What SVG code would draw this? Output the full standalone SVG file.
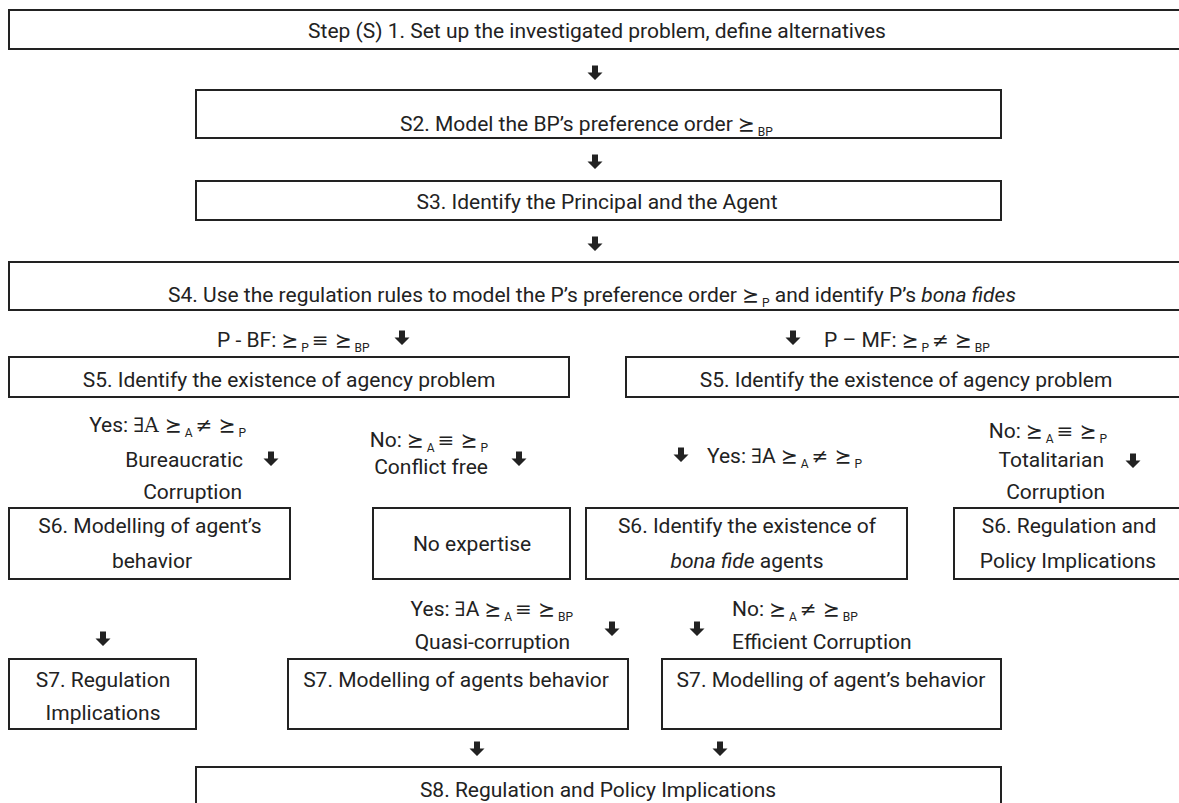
<svg xmlns="http://www.w3.org/2000/svg" xmlns:xlink="http://www.w3.org/1999/xlink" width="1179" height="803" viewBox="0 0 1179 803">
<style>
.box{fill:#fff;stroke:#222;stroke-width:2}
.t{font-family:Roboto,"Liberation Sans",sans-serif;font-size:21px;fill:#222}
.s{font-family:"DejaVu Serif","DejaVu Sans",serif;font-size:20px}
.sub{font-family:Roboto,"Liberation Sans",sans-serif;font-size:12px}
.i{font-style:italic}
.arr{fill:#222}
</style>
<defs>
<path id="dn" d="M-3,-7.5 h6 v7 h4.5 l-7.5,7.5 l-7.5,-7.5 h4.5 z"/>
</defs>
<rect width="1179" height="803" fill="#fff"/>

<g id="s1"><rect class="box" x="9" y="10" width="1185" height="39"/>
<text class="t" x="597" y="38" text-anchor="middle">Step (S) 1. Set up the investigated problem, define alternatives</text></g>

<g id="s2"><rect class="box" x="196" y="90" width="805" height="48"/>
<text class="t" x="400" y="131">S2. Model the BP’s preference order <tspan class="s">⪰</tspan><tspan class="sub" dy="5"> BP</tspan></text></g>

<g id="s3"><rect class="box" x="196" y="181" width="805" height="39"/>
<text class="t" x="597" y="209" text-anchor="middle">S3. Identify the Principal and the Agent</text></g>

<g id="s4"><rect class="box" x="9" y="262" width="1185" height="48"/>
<text class="t" x="168" y="302">S4. Use the regulation rules to model the P’s preference order <tspan class="s">⪰</tspan><tspan class="sub" dy="5"> P</tspan><tspan dy="-5"> and identify P’s </tspan><tspan class="i">bona fides</tspan></text></g>

<g id="lbl-bf"><text class="t" x="217" y="347">P - BF: <tspan class="s">⪰</tspan><tspan class="sub" dy="5"> P </tspan><tspan class="s" dy="-5">≡ ⪰</tspan><tspan class="sub" dy="5"> BP</tspan></text></g>
<g id="lbl-mf"><text class="t" x="824" y="347">P – MF: <tspan class="s">⪰</tspan><tspan class="sub" dy="5"> P </tspan><tspan class="s" dy="-5">≠ ⪰</tspan><tspan class="sub" dy="5"> BP</tspan></text></g>

<g id="s5a"><rect class="box" x="9" y="357" width="560" height="40"/>
<text class="t" x="289" y="387" text-anchor="middle">S5. Identify the existence of agency problem</text></g>
<g id="s5b"><rect class="box" x="626" y="357" width="570" height="40"/>
<text class="t" x="906" y="387" text-anchor="middle">S5. Identify the existence of agency problem</text></g>

<g id="lbl-bureau">
<text class="t" x="246" y="432" text-anchor="end">Yes: <tspan class="s">∃A ⪰</tspan><tspan class="sub" dy="5"> A </tspan><tspan class="s" dy="-5">≠ ⪰</tspan><tspan class="sub" dy="5"> P</tspan></text>
<text class="t" x="243" y="467" text-anchor="end">Bureaucratic</text>
<text class="t" x="242" y="499" text-anchor="end">Corruption</text></g>

<g id="lbl-conflict">
<text class="t" x="488" y="447" text-anchor="end">No: <tspan class="s">⪰</tspan><tspan class="sub" dy="5"> A </tspan><tspan class="s" dy="-5">≡ ⪰</tspan><tspan class="sub" dy="5"> P</tspan></text>
<text class="t" x="488" y="474" text-anchor="end">Conflict free</text></g>

<g id="lbl-yes-r">
<text class="t" x="707" y="463">Yes: <tspan class="s">∃</tspan>A <tspan class="s">⪰</tspan><tspan class="sub" dy="5"> A </tspan><tspan class="s" dy="-5">≠ ⪰</tspan><tspan class="sub" dy="5"> P</tspan></text></g>

<g id="lbl-total">
<text class="t" x="1107" y="438" text-anchor="end">No: <tspan class="s">⪰</tspan><tspan class="sub" dy="5"> A </tspan><tspan class="s" dy="-5">≡ ⪰</tspan><tspan class="sub" dy="5"> P</tspan></text>
<text class="t" x="1104" y="467" text-anchor="end">Totalitarian</text>
<text class="t" x="1105" y="499" text-anchor="end">Corruption</text></g>

<g id="s6a"><rect class="box" x="9" y="508" width="281" height="71"/>
<text class="t" x="150" y="533" text-anchor="middle">S6. Modelling of agent’s</text>
<text class="t" x="152" y="568" text-anchor="middle">behavior</text></g>

<g id="noexp"><rect class="box" x="373" y="508" width="197" height="71"/>
<text class="t" x="472" y="551" text-anchor="middle">No expertise</text></g>

<g id="s6b"><rect class="box" x="586" y="508" width="321" height="71"/>
<text class="t" x="747" y="533" text-anchor="middle">S6. Identify the existence of</text>
<text class="t" x="747" y="568" text-anchor="middle"><tspan class="i">bona fide</tspan> agents</text></g>

<g id="s6c"><rect class="box" x="954" y="508" width="240" height="71"/>
<text class="t" x="1069" y="533" text-anchor="middle">S6. Regulation and</text>
<text class="t" x="1068" y="568" text-anchor="middle">Policy Implications</text></g>

<g id="lbl-quasi">
<text class="t" x="573" y="616" text-anchor="end">Yes: <tspan class="s">∃</tspan>A <tspan class="s">⪰</tspan><tspan class="sub" dy="5"> A </tspan><tspan class="s" dy="-5">≡ ⪰</tspan><tspan class="sub" dy="5"> BP</tspan></text>
<text class="t" x="570" y="649" text-anchor="end">Quasi-corruption</text></g>

<g id="lbl-eff">
<text class="t" x="732" y="616">No: <tspan class="s">⪰</tspan><tspan class="sub" dy="5"> A </tspan><tspan class="s" dy="-5">≠ ⪰</tspan><tspan class="sub" dy="5"> BP</tspan></text>
<text class="t" x="732" y="649">Efficient Corruption</text></g>

<g id="s7a"><rect class="box" x="9" y="659" width="187" height="70"/>
<text class="t" x="103" y="687" text-anchor="middle">S7. Regulation</text>
<text class="t" x="103" y="720" text-anchor="middle">Implications</text></g>

<g id="s7b"><rect class="box" x="288" y="659" width="340" height="70"/>
<text class="t" x="456" y="687" text-anchor="middle">S7. Modelling of agents behavior</text></g>

<g id="s7c"><rect class="box" x="662" y="659" width="339" height="70"/>
<text class="t" x="831" y="687" text-anchor="middle">S7. Modelling of agent’s behavior</text></g>

<g id="s8"><rect class="box" x="196" y="767" width="805" height="50"/>
<text class="t" x="598" y="797" text-anchor="middle">S8. Regulation and Policy Implications</text></g>

<g id="connectors" class="arr">
<use xlink:href="#dn" x="595" y="73"/>
<use xlink:href="#dn" x="595" y="162"/>
<use xlink:href="#dn" x="595" y="244"/>
<use xlink:href="#dn" x="402" y="338"/>
<use xlink:href="#dn" x="793" y="338"/>
<use xlink:href="#dn" x="271" y="459"/>
<use xlink:href="#dn" x="519" y="459"/>
<use xlink:href="#dn" x="681" y="455"/>
<use xlink:href="#dn" x="1133" y="461"/>
<use xlink:href="#dn" x="103" y="639"/>
<use xlink:href="#dn" x="612" y="629"/>
<use xlink:href="#dn" x="697" y="629"/>
<use xlink:href="#dn" x="477" y="749"/>
<use xlink:href="#dn" x="720" y="749"/>
</g>
</svg>
